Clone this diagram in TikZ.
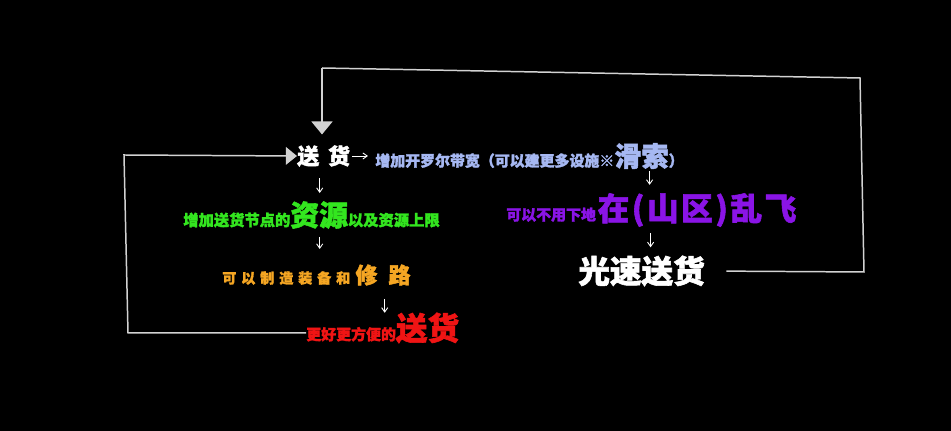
\documentclass[tikz,border=0pt]{standalone}
\usepackage{fontspec}
\usetikzlibrary{arrows.meta}
\newfontfamily\cjk[BoldFeatures={FakeBold=1.8}]{Noto Sans CJK SC}
\newcommand\fsz[1]{\fontsize{#1}{#1}\selectfont}
\definecolor{cablue}{HTML}{A6B8F2}
\definecolor{cagreen}{HTML}{33E61F}
\definecolor{caorange}{HTML}{F5A623}
\definecolor{cared}{HTML}{F01414}
\definecolor{capurple}{HTML}{8A14E6}
\definecolor{caline}{HTML}{D2D2D2}

\begin{document}
\begin{tikzpicture}[x=0.02cm, y=-0.02cm,
  every node/.style={font=\cjk\bfseries, inner sep=0pt, anchor=west},
  loopline/.style={draw=caline, line width=0.85pt},
  smallarr/.style={draw=white, line width=0.5pt,
    -{Straight Barb[length=2.5pt,width=3.5pt]}}
]
  \fill[black] (0,0) rectangle (951,431);
  \useasboundingbox (0,0) rectangle (951,431);

  % left column
  \node[white] (songhuo) at (297,156) {\fsz{12.5pt}送\hspace{5pt}货};
  \node[cablue] (blue) at (375,156)
    {\fsz{8.5pt}增加开罗尔带宽（可以建更多设施※{\fsz{15.5pt}滑索}）};
  \node[cagreen] (green) at (183,215)
    {\fsz{8.7pt}增加送货节点的{\fsz{16.4pt}资源}以及资源上限};
  \node[caorange] (orange) at (222,275)
    {{\fsz{8pt}\addfontfeature{LetterSpace=35}可以制造装备和}\hspace{3pt}%
     {\fsz{12.5pt}\addfontfeature{LetterSpace=50}修路}};
  \node[cared] (red) at (306,328)
    {\fsz{8.5pt}更好更方便的{\fsz{18pt}送货}};

  % right column
  \node[capurple] (purple) at (506,210)
    {\fsz{8.5pt}可以不用下地\hspace{1pt}{\fsz{18pt}\addfontfeature{LetterSpace=8}在(山区)乱飞}};
  \node[white] (guangsu) at (578,271) {\fsz{18pt}光速送货};

  % small steps
  \draw[smallarr, shorten <=1pt, shorten >=4pt]
    (songhuo.east) -- (songhuo.east -| blue.west);
  \draw[smallarr] (songhuo.south) ++(-4,11) -- ++(0,15);
  \draw[smallarr] (green.south -| songhuo) ++(-4,8) -- ++(0,12);
  \draw[smallarr] (orange.south -| songhuo) ++(61,13) -- ++(0,14);
  \draw[smallarr] (purple.north -| guangsu) ++(8,-22) -- ++(0,14);
  \draw[smallarr] (guangsu.north) ++(9,-22) -- ++(0,14);

  % feedback loops
  \coordinate (lbot) at (128,333);
  \coordinate (ltop) at (124,155);
  \coordinate (rbot) at (864,272);
  \coordinate (rtop) at (860,78);
  \coordinate (ttop) at (322,68);
  \draw[loopline, -{Triangle[length=6.3pt,width=10pt]}]
    (lbot -| red.west) -- (lbot) -- (ltop) -- (songhuo.west);
  \draw[loopline, shorten <=12pt] (guangsu.east) -- (rbot) -- (rtop) -- (ttop);
  \draw[loopline, shorten >=6pt, -{Triangle[length=7.4pt,width=12pt]}]
    (ttop) -- (ttop |- songhuo.north);
\end{tikzpicture}
\end{document}
